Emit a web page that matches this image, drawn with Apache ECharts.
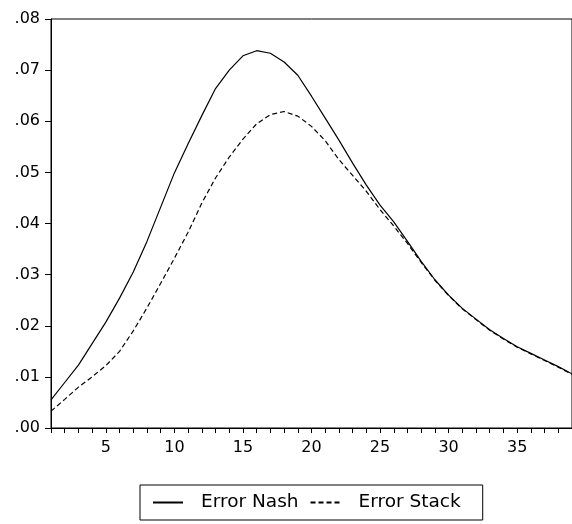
<!DOCTYPE html>
<html>
<head>
<meta charset="utf-8">
<script src="https://cdn.jsdelivr.net/npm/echarts@6/dist/echarts.min.js"></script>
<style>
  html, body { margin: 0; padding: 0; background: #fff; }
  #chart { width: 572px; height: 524px; }
</style>
</head>
<body>
<div id="chart"></div>
<script>
// Horizon (periods 1..39)
const periods = [];
for (let i = 1; i <= 39; i++) periods.push(String(i));

// Forecast error under Nash play
const errorNash = [
  0.0055, 0.0089, 0.0123, 0.0165, 0.0207, 0.0254, 0.0305, 0.0365, 0.0432, 0.0499,
  0.0556, 0.0611, 0.0664, 0.0700, 0.0728, 0.0738, 0.0733, 0.0716, 0.0690, 0.0649,
  0.0606, 0.0563, 0.0518, 0.0475, 0.0436, 0.0403, 0.0365, 0.0326, 0.0290, 0.0260,
  0.0234, 0.0213, 0.0192, 0.0175, 0.0159, 0.0146, 0.0133, 0.0120, 0.0106
];

// Forecast error under Stackelberg play
const errorStack = [
  0.0033, 0.0056, 0.0080, 0.0100, 0.0122, 0.0150, 0.0190, 0.0235, 0.0283, 0.0332,
  0.0383, 0.0440, 0.0489, 0.0530, 0.0565, 0.0595, 0.0613, 0.0619, 0.0610, 0.0590,
  0.0562, 0.0525, 0.0494, 0.0463, 0.0427, 0.0395, 0.0361, 0.0324, 0.0289, 0.0259,
  0.0233, 0.0212, 0.0191, 0.0174, 0.0158, 0.0145, 0.0132, 0.0119, 0.0105
];

// Value-axis tick labels (.00 ... .08)
const yTickLabels = ['.00', '.01', '.02', '.03', '.04', '.05', '.06', '.07', '.08'];

const FONT = 'DejaVu Sans';
const chart = echarts.init(document.getElementById('chart'), null, { renderer: 'canvas' });

chart.setOption({
  animation: false,
  backgroundColor: '#fff',
  grid: {
    left: 51, right: -3, top: 19, bottom: 96,
    show: true, borderColor: '#000', borderWidth: 1, backgroundColor: 'transparent'
  },
  xAxis: {
    type: 'category',
    data: periods,
    boundaryGap: false,
    axisLine: { lineStyle: { color: '#000', width: 1 } },
    axisTick: { show: true, interval: 0, length: 5, lineStyle: { color: '#000' } },
    axisLabel: {
      interval: (idx, val) => Number(val) % 5 === 0,
      color: '#000', fontFamily: FONT, fontSize: 16, margin: 12
    },
    splitLine: { show: false }
  },
  yAxis: {
    type: 'value',
    min: 0, max: 0.08, interval: 0.01,
    axisLine: { show: true, lineStyle: { color: '#000', width: 1 } },
    axisTick: { show: true, length: 6, lineStyle: { color: '#000' } },
    axisLabel: {
      color: '#000', fontFamily: FONT, fontSize: 16, margin: 11,
      formatter: (v) => yTickLabels[Math.round(v * 100)]
    },
    splitLine: { show: false }
  },
  legend: {
    left: 140, top: 485,
    orient: 'horizontal',
    padding: [8, 22, 8, 12],
    itemGap: 11,
    itemWidth: 30, itemHeight: 14,
    borderColor: '#000', borderWidth: 1, borderRadius: 0,
    // line-only keys: the marker symbol is hidden
    itemStyle: { opacity: 0 },
    textStyle: { color: '#000', fontFamily: FONT, fontSize: 18.5, padding: [0, 0, 0, 13] },
    data: ['Error Nash', 'Error Stack']
  },
  series: [
    {
      name: 'Error Nash',
      type: 'line',
      data: errorNash,
      symbol: 'none',
      smooth: false,
      lineStyle: { color: '#000', width: 1.2, type: 'solid' },
      itemStyle: { color: '#000' }
    },
    {
      name: 'Error Stack',
      type: 'line',
      data: errorStack,
      symbol: 'none',
      smooth: false,
      lineStyle: { color: '#000', width: 1.2, type: [5, 3] },
      itemStyle: { color: '#000' }
    }
  ]
});
</script>
</body>
</html>
